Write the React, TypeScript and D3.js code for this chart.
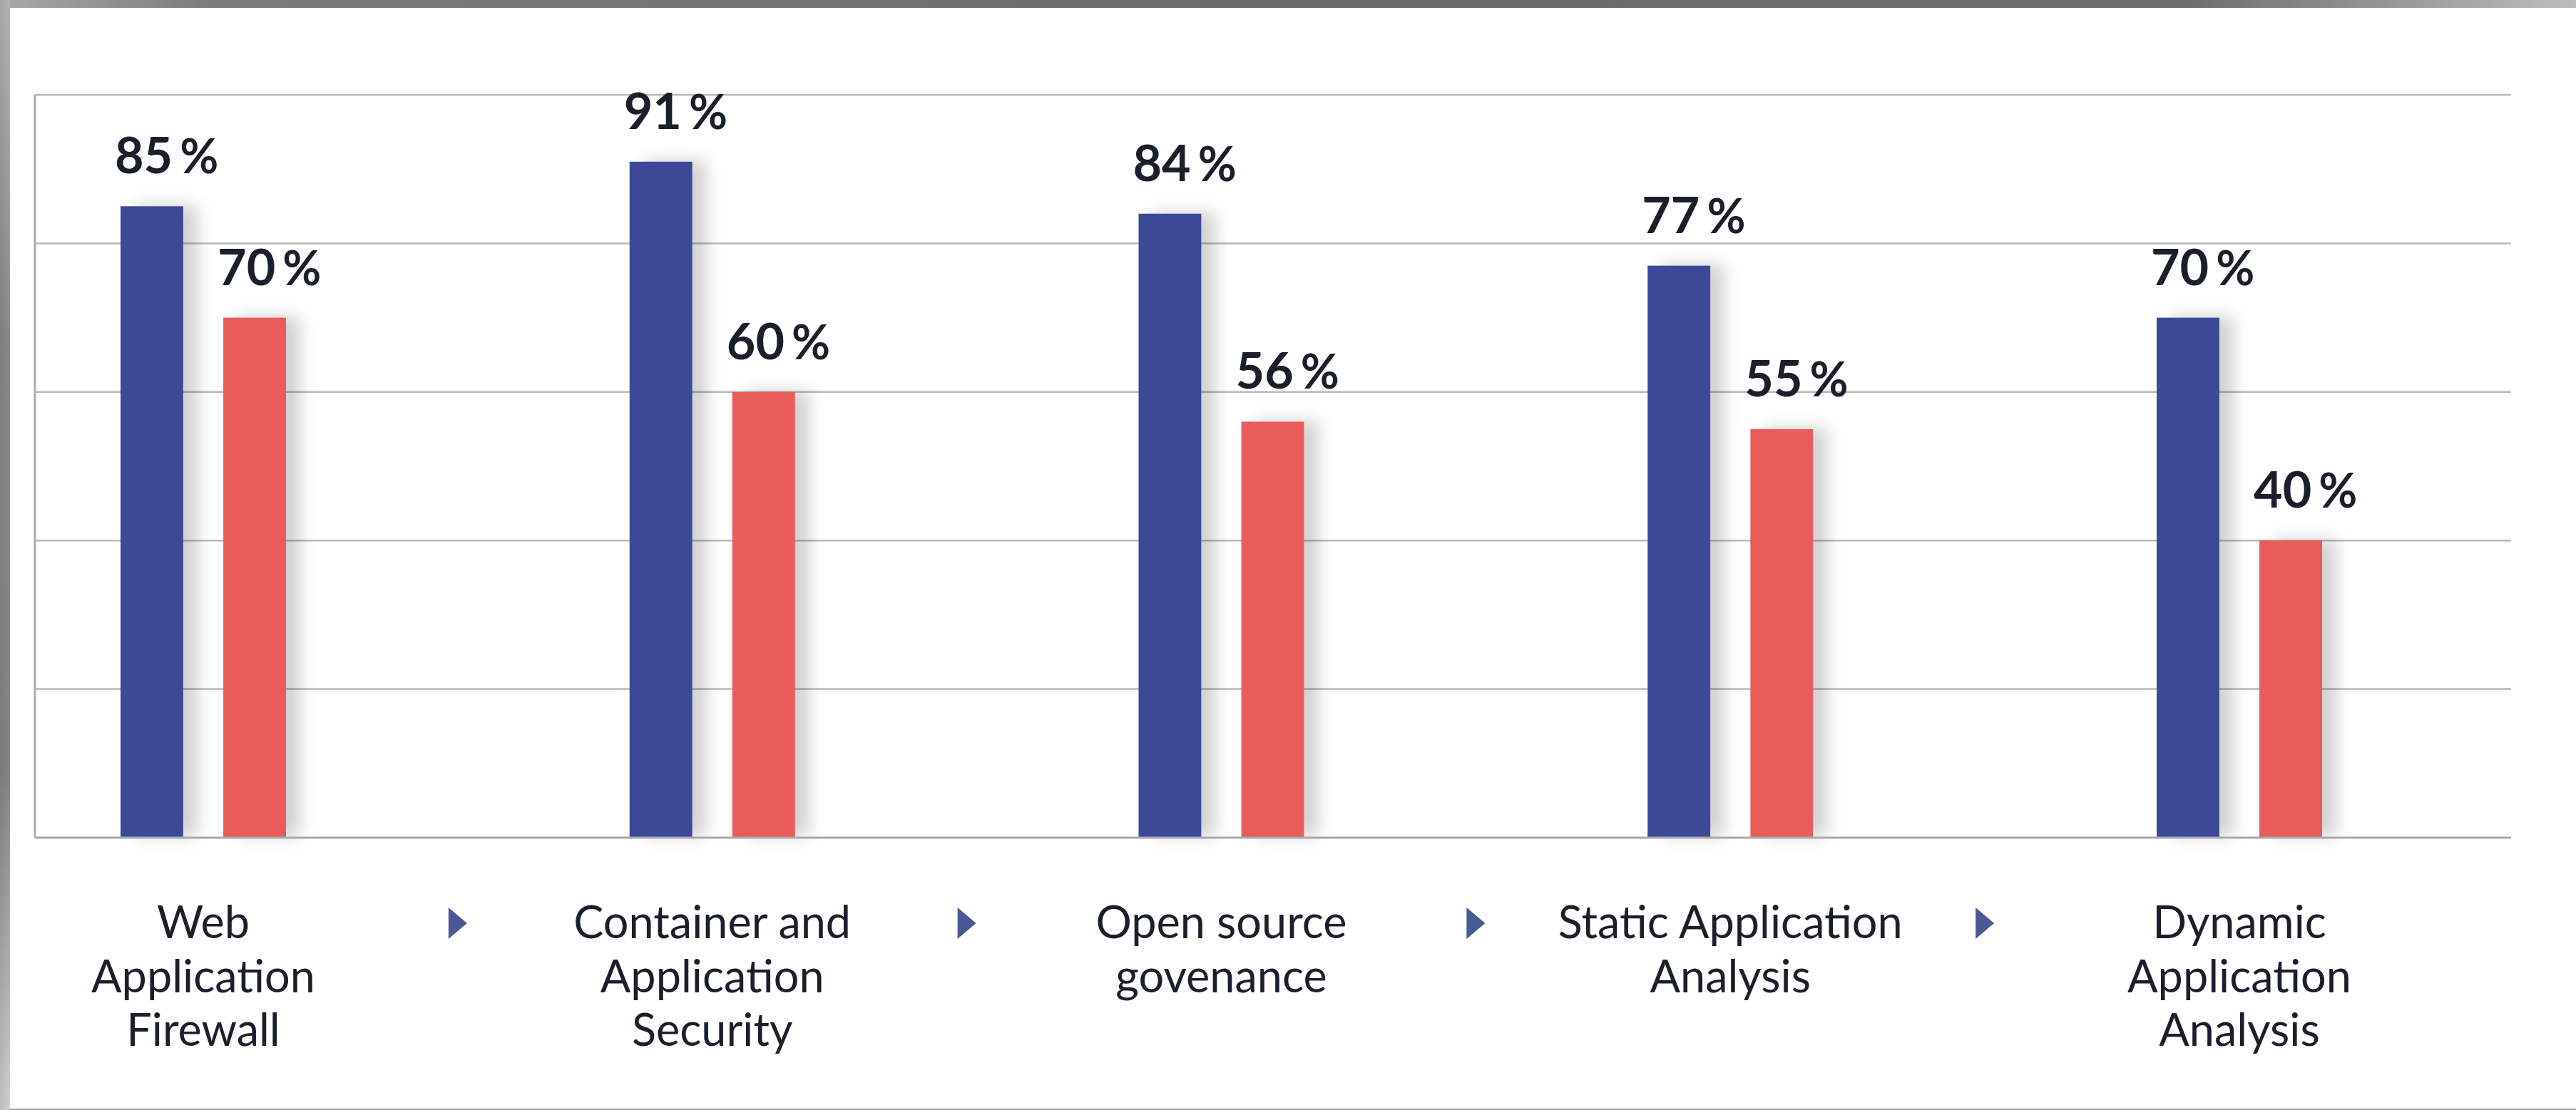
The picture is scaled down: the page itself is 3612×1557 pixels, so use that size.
import React from "react";
import * as d3 from "d3";

const categories = [
  "Web Application Firewall",
  "Container and Application Security",
  "Open source govenance",
  "Static Application Analysis",
  "Dynamic Application Analysis",
];
const categoryLines = [
  ["Web", "Application", "Firewall"],
  ["Container and", "Application", "Security"],
  ["Open source", "govenance"],
  ["Static Application", "Analysis"],
  ["Dynamic", "Application", "Analysis"],
];
const seriesNames = ["first", "second"];
const seriesA = [85, 91, 84, 77, 70];
const seriesB = [70, 60, 56, 55, 40];
const yTicks = [20, 40, 60, 80, 100];

const W = 3612;
const H = 1557;
const PLOT_LEFT = 49;
const PLOT_RIGHT = 3521;
const BASE_Y = 1175;
const TOP_Y = 133;

const COLORS = ["#3c4a96", "#e95b5a"];
const TEXT = "#1a1f2b";
const FONT = "Lato, 'Open Sans', sans-serif";

export default function App() {
  const x = d3.scalePoint<string>().domain(categories).range([285, 3140]);
  const inner = d3
    .scaleBand<string>()
    .domain(seriesNames)
    .range([-116, 116])
    .paddingInner(0.39)
    .paddingOuter(0);
  const y = d3.scaleLinear().domain([0, 100]).range([BASE_Y, TOP_Y]);

  const data = categories.map((c, i) => ({
    cat: c,
    lines: categoryLines[i],
    vals: [seriesA[i], seriesB[i]],
  }));

  const arrows = d3.pairs(categories).map(([a, b]) => ((x(a) as number) + (x(b) as number)) / 2);

  return (
    <div style={{ position: "absolute", left: 0, top: 0, width: W, height: H }}>
      <svg width={W} height={H} style={{ display: "block" }} xmlns="http://www.w3.org/2000/svg">
        <defs>
          <linearGradient id="topBand" x1="0" y1="0" x2="1" y2="0">
            <stop offset="0" stopColor="#a8a8a8" />
            <stop offset="0.08" stopColor="#7c7c7c" />
            <stop offset="0.5" stopColor="#6a6a6a" />
            <stop offset="0.85" stopColor="#6e6e6e" />
            <stop offset="1" stopColor="#bdbdbd" />
          </linearGradient>
          <linearGradient id="leftBand" x1="0" y1="0" x2="0" y2="1">
            <stop offset="0" stopColor="#b5b5b5" />
            <stop offset="0.3" stopColor="#8a8a8a" />
            <stop offset="0.7" stopColor="#858585" />
            <stop offset="1" stopColor="#d0d0d0" />
          </linearGradient>
          <linearGradient id="leftBandH" x1="0" y1="0" x2="1" y2="0">
            <stop offset="0" stopColor="#000" stopOpacity="0.08" />
            <stop offset="1" stopColor="#000" stopOpacity="0" />
          </linearGradient>
          <filter id="shadow" x="-60%" y="-10%" width="220%" height="130%">
            <feGaussianBlur in="SourceAlpha" stdDeviation="11" />
            <feOffset dx="20" dy="-2" result="b" />
            <feComponentTransfer>
              <feFuncA type="linear" slope="0.18" />
            </feComponentTransfer>
            <feMerge>
              <feMergeNode />
              <feMergeNode in="SourceGraphic" />
            </feMerge>
          </filter>
        </defs>

        <rect x={0} y={0} width={W} height={H} fill="#ffffff" />
        <rect x={0} y={0} width={W} height={11} fill="url(#topBand)" />
        <rect x={0} y={0} width={14} height={H} fill="url(#leftBand)" />
        <rect x={0} y={0} width={14} height={H} fill="url(#leftBandH)" />
        <line x1={14} x2={W} y1={H - 1} y2={H - 1} stroke="#a0a0a0" strokeWidth={2} />

        {/* gridlines */}
        <g>
          {yTicks.map((t) => (
            <line
              key={t}
              x1={PLOT_LEFT}
              x2={PLOT_RIGHT}
              y1={y(t)}
              y2={y(t)}
              stroke="#b7baba"
              strokeWidth={2.5}
            />
          ))}
          <line x1={PLOT_LEFT} x2={PLOT_LEFT} y1={y(100)} y2={BASE_Y} stroke="#acacac" strokeWidth={3} />
        </g>

        {/* bars */}
        <g>
          {data.map((d) => (
            <g key={d.cat} transform={`translate(${x(d.cat)},0)`}>
              {d.vals.map((v, j) => (
                <rect
                  key={j}
                  x={inner(seriesNames[j])}
                  y={y(v)}
                  width={inner.bandwidth()}
                  height={BASE_Y - y(v)}
                  fill={COLORS[j]}
                  filter="url(#shadow)"
                />
              ))}
            </g>
          ))}
        </g>

        <line x1={PLOT_LEFT} x2={PLOT_RIGHT} y1={BASE_Y} y2={BASE_Y} stroke="#a9a9a9" strokeWidth={3} />

        {/* value labels */}
        <g fontFamily={FONT} fontWeight={700} fontSize={70} fill={TEXT}>
          {data.map((d) =>
            d.vals.map((v, j) => (
              <text
                key={d.cat + j}
                x={(x(d.cat) as number) + (inner(seriesNames[j]) as number) - 8}
                y={y(v) - 46}
              >
                <tspan>{v}</tspan>
                <tspan dx={10} fontSize={66}>%</tspan>
              </text>
            ))
          )}
        </g>

        {/* category labels */}
        <g fontFamily={FONT} fontWeight={400} fontSize={63} fill={TEXT} textAnchor="middle">
          {data.map((d) => (
            <text key={d.cat} x={x(d.cat)} y={1316}>
              {d.lines.map((l, k) => (
                <tspan key={k} x={x(d.cat)} dy={k === 0 ? 0 : 75.5}>
                  {l}
                </tspan>
              ))}
            </text>
          ))}
        </g>

        {/* separator arrows */}
        <g fill="#4a5894">
          {arrows.map((ax, i) => (
            <path key={i} d={`M${ax - 13},1273 L${ax + 13},1295 L${ax - 13},1317 Z`} />
          ))}
        </g>
      </svg>
    </div>
  );
}
